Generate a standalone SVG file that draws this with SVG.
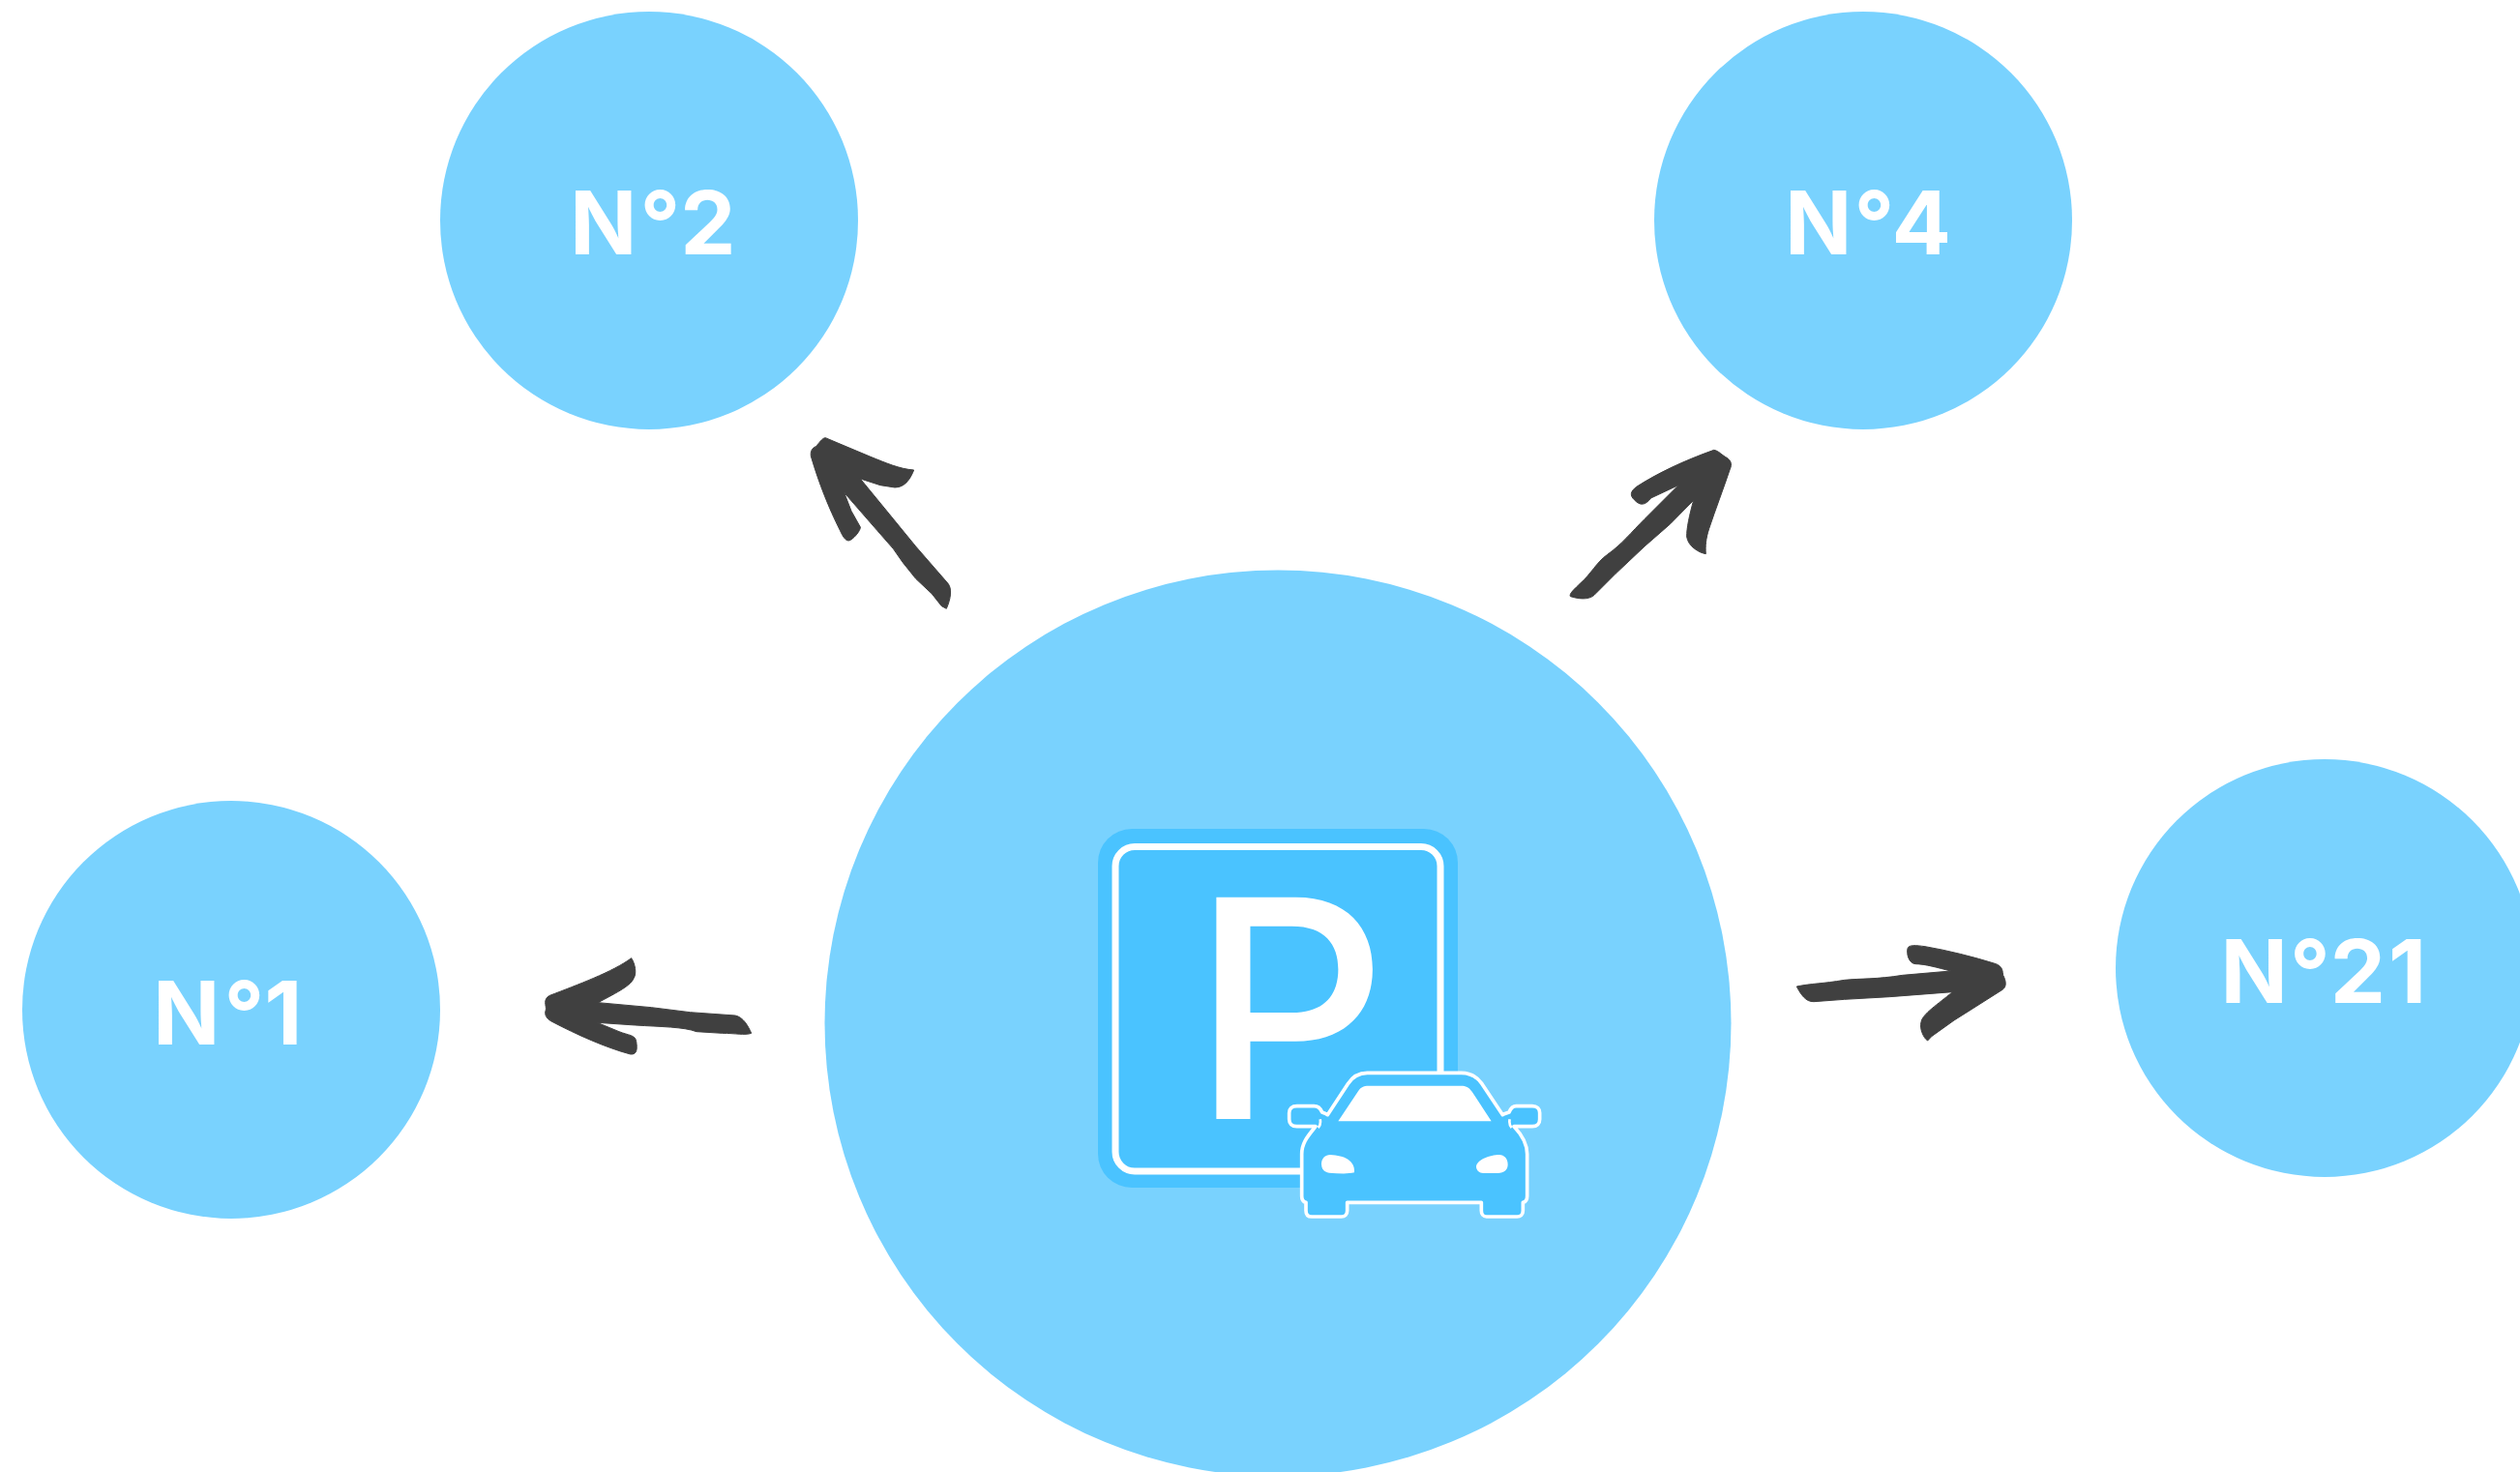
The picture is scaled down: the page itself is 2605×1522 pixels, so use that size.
<svg xmlns="http://www.w3.org/2000/svg" width="2605" height="1522" viewBox="0 0 2605 1522">
<style>
.c{fill:#79d2fe}
.t{font-family:"Inter","Liberation Sans",sans-serif;font-weight:700;font-size:91px;fill:#fff}
.a{fill:#404040;stroke:#404040;stroke-width:3;stroke-linejoin:round}
.w{fill:#fff}
.s{fill:#4ac3ff}
</style>
<rect width="2605" height="1522" fill="#fff"/>
<g id="node-center">
<circle class="c" cx="1321" cy="1058" r="468.5"/>
<g id="parking-icon">
<rect class="s" x="1135" y="857" width="372" height="371" rx="35"/>
<rect class="s" x="1153" y="875.5" width="336" height="335.5" rx="20" stroke="#fff" stroke-width="7"/>
<text x="1232" y="1157" font-family="Inter,'Liberation Sans',sans-serif" font-size="315" font-weight="500" fill="#fff">P</text>
<g transform="translate(1100,840) scale(0.33333)">
<path class="s" stroke="#fff" stroke-width="11" stroke-linejoin="round" d="M940 808L1232 808C1260 808 1282 822 1296 842L1360 938L1365 935L1380 930C1385 918 1390 911 1402 911L1452 911C1467 911 1475 920 1475 932L1475 952C1475 965 1467 974 1452 974L1395 974C1420 1000 1436 1025 1436 1060L1436 1190C1436 1200 1432 1208 1423 1210L1423 1235C1423 1248 1415 1254 1405 1254L1310 1254C1300 1254 1294 1246 1294 1235L1294 1210L878 1210L878 1235C878 1248 870 1254 860 1254L768 1254C757 1254 750 1248 750 1235L750 1210C742 1208 737 1200 737 1190L737 1060C737 1025 755 1005 780 974L722 974C706 974 698 965 698 952L698 932C698 920 706 911 722 911L775 911C787 911 795 918 800 930L812 935L817 938L880 842C893 822 915 808 940 808Z"/>
<path fill="none" stroke="#fff" stroke-width="8" d="M794 952C796 962 794 972 788 978M1382 952C1380 962 1382 972 1388 978"/>
<path class="w" d="M850 958L910 868C918 853 928 848 945 848L1232 848C1245 848 1255 852 1265 866L1325 958Z"/>
<path class="w" d="M825 1062C870 1064 902 1080 900 1117C880 1122 850 1120 822 1118C805 1116 798 1105 798 1090C798 1073 810 1062 825 1062Z"/>
<path class="w" d="M1350 1062C1365 1062 1376 1075 1376 1092C1376 1108 1365 1119 1345 1119L1300 1119C1287 1119 1278 1110 1278 1098C1280 1078 1320 1062 1350 1062Z"/>
</g>
</g>
</g>
<g id="node-1"><circle class="c" cx="239" cy="1044" r="216"/><text class="t" x="158" y="1080">N<tspan dx="4">°</tspan>1</text></g>
<g id="node-2"><circle class="c" cx="671" cy="228" r="216"/><text class="t" x="589" y="263">N<tspan dx="3">°</tspan>2</text></g>
<g id="node-4"><circle class="c" cx="1926" cy="228" r="216"/><text class="t" x="1845" y="263">N<tspan dx="2">°</tspan><tspan dx="1.5">4</tspan></text></g>
<g id="node-21"><circle class="c" cx="2403" cy="1001" r="216"/><text class="t" x="2295.5" y="1037">N<tspan dx="2">°</tspan>2<tspan dx="3">1</tspan></text></g>
<g id="connectors">
<path class="a" transform="translate(800,430) scale(0.33333)" d="M160 68L200 85L300 127C345 145 390 165 434 168C425 190 410 222 375 222L330 215L268 195L350 295L440 405L540 520C552 535 550 565 535 598L520 590L490 552L440 505L400 455L370 412L320 355L218 238L240 295L268 345C270 355 245 385 232 387C220 387 212 370 205 355C170 285 140 210 115 125C113 110 118 100 130 95C140 85 150 68 160 68Z"/>
<path class="a" transform="translate(1600,440) scale(0.33333)" d="M515 76C530 78 540 92 555 100C568 108 572 120 565 135C545 195 520 260 500 320C490 350 488 375 490 398C470 395 435 375 431 345C430 320 440 275 452 232L380 305L300 375L210 460L150 520C135 538 110 542 70 530C65 522 85 505 100 490C135 460 150 425 185 400C230 368 260 330 300 290L405 185L320 225C300 250 285 248 268 230C255 218 255 205 275 190C340 148 420 110 515 76Z"/>
<path class="a" transform="translate(540,970) scale(0.33333)" d="M338 62C350 80 355 110 345 125C335 150 280 175 235 200L400 215L520 230L660 240C685 245 700 272 710 295C690 302 660 295 620 295L540 290C500 275 430 275 350 270L232 262L300 290C330 302 350 300 353 320C357 345 355 362 335 360C260 340 170 300 90 258C72 248 68 235 73 222C75 210 62 190 85 178C170 145 280 105 338 62Z"/>
<path class="a" transform="translate(1840,960) scale(0.33333)" d="M52 180C100 170 130 172 200 160C250 155 300 158 380 145L530 132C490 122 450 110 420 110C400 108 392 80 396 62C400 50 420 52 450 56C520 68 600 88 670 110C692 118 690 135 692 145C700 160 705 180 690 190L540 285L470 335L458 348C445 340 432 310 438 290C442 265 490 235 535 197L340 212L200 220L105 227C80 228 65 205 52 180Z"/>
</g>
</svg>
